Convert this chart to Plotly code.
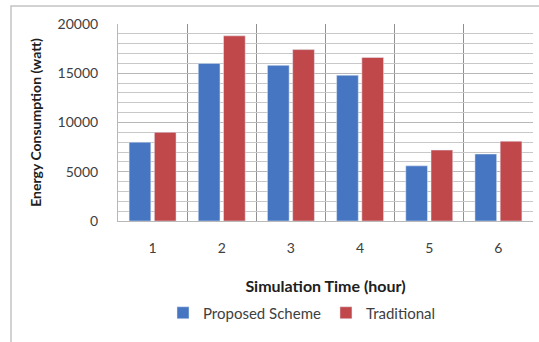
import plotly.graph_objects as go

hours = [1, 2, 3, 4, 5, 6]
hour_labels = ["1", "2", "3", "4", "5", "6"]
proposed = [8000, 16000, 15800, 14800, 5600, 6800]
traditional = [9000, 18800, 17400, 16600, 7200, 8100]

W, H = 539, 342
ml, mr, mt, mb = 118, 6, 24, 121
pw, ph = W - ml - mr, H - mt - mb

font = "Lato, 'Open Sans', Arial, sans-serif"
grid = "#b8b8b8"

fig = go.Figure()
fig.add_trace(go.Bar(x=hours, y=proposed, name="Proposed Scheme", marker_color="#4676c2"))
fig.add_trace(go.Bar(x=hours, y=traditional, name="Traditional", marker_color="#c0474a"))

fig.update_layout(
    width=W, height=H,
    margin=dict(l=ml, r=mr, t=mt, b=mb),
    paper_bgcolor="white", plot_bgcolor="white",
    barmode="group", bargap=0.27, bargroupgap=0.14,
    font=dict(family=font, size=14, color="#404040"),
    legend=dict(orientation="h", x=(302 - ml) / pw, xanchor="center",
                y=-(313 - mt - ph) / ph, yanchor="middle",
                font=dict(size=15, color="#404040"), itemwidth=30),
    xaxis=dict(
        range=[0.5, 6.5], tickvals=hours, ticktext=hour_labels,
        showgrid=False, zeroline=False, showline=True, linecolor=grid,
        ticks="", ticklabelstandoff=14, tickfont=dict(size=14),
        minor=dict(tick0=0.5, dtick=1, showgrid=True, gridcolor="#909090", gridwidth=1),
        title=dict(text="<b>Simulation Time (hour)</b>", font=dict(size=16, color="#202020"), standoff=26),
    ),
    yaxis=dict(
        range=[0, 20000], dtick=5000, tickformat="d", showgrid=True, gridcolor=grid,
        zeroline=False, showline=True, linecolor=grid, ticks="",
        ticklabelstandoff=16, tickfont=dict(size=14),
        minor=dict(dtick=1000, showgrid=True, gridcolor="#c8c8c8", gridwidth=1),
        title=dict(text="<b>Energy Consumption (watt)</b>", font=dict(size=14, color="#202020"), standoff=12),
    ),
)

fig.add_shape(type="rect", xref="paper", yref="paper",
              x0=(11 - ml) / pw, x1=(W + 5 - ml) / pw,
              y0=-(H + 5 - mt - ph) / ph, y1=(mt + ph - 6) / ph,
              line=dict(color="#c4c4c4", width=1.5), layer="above")

fig.write_html("out.html", config={"displayModeBar": False},
               post_script="document.body.style.margin='0';document.body.style.overflow='hidden';")
